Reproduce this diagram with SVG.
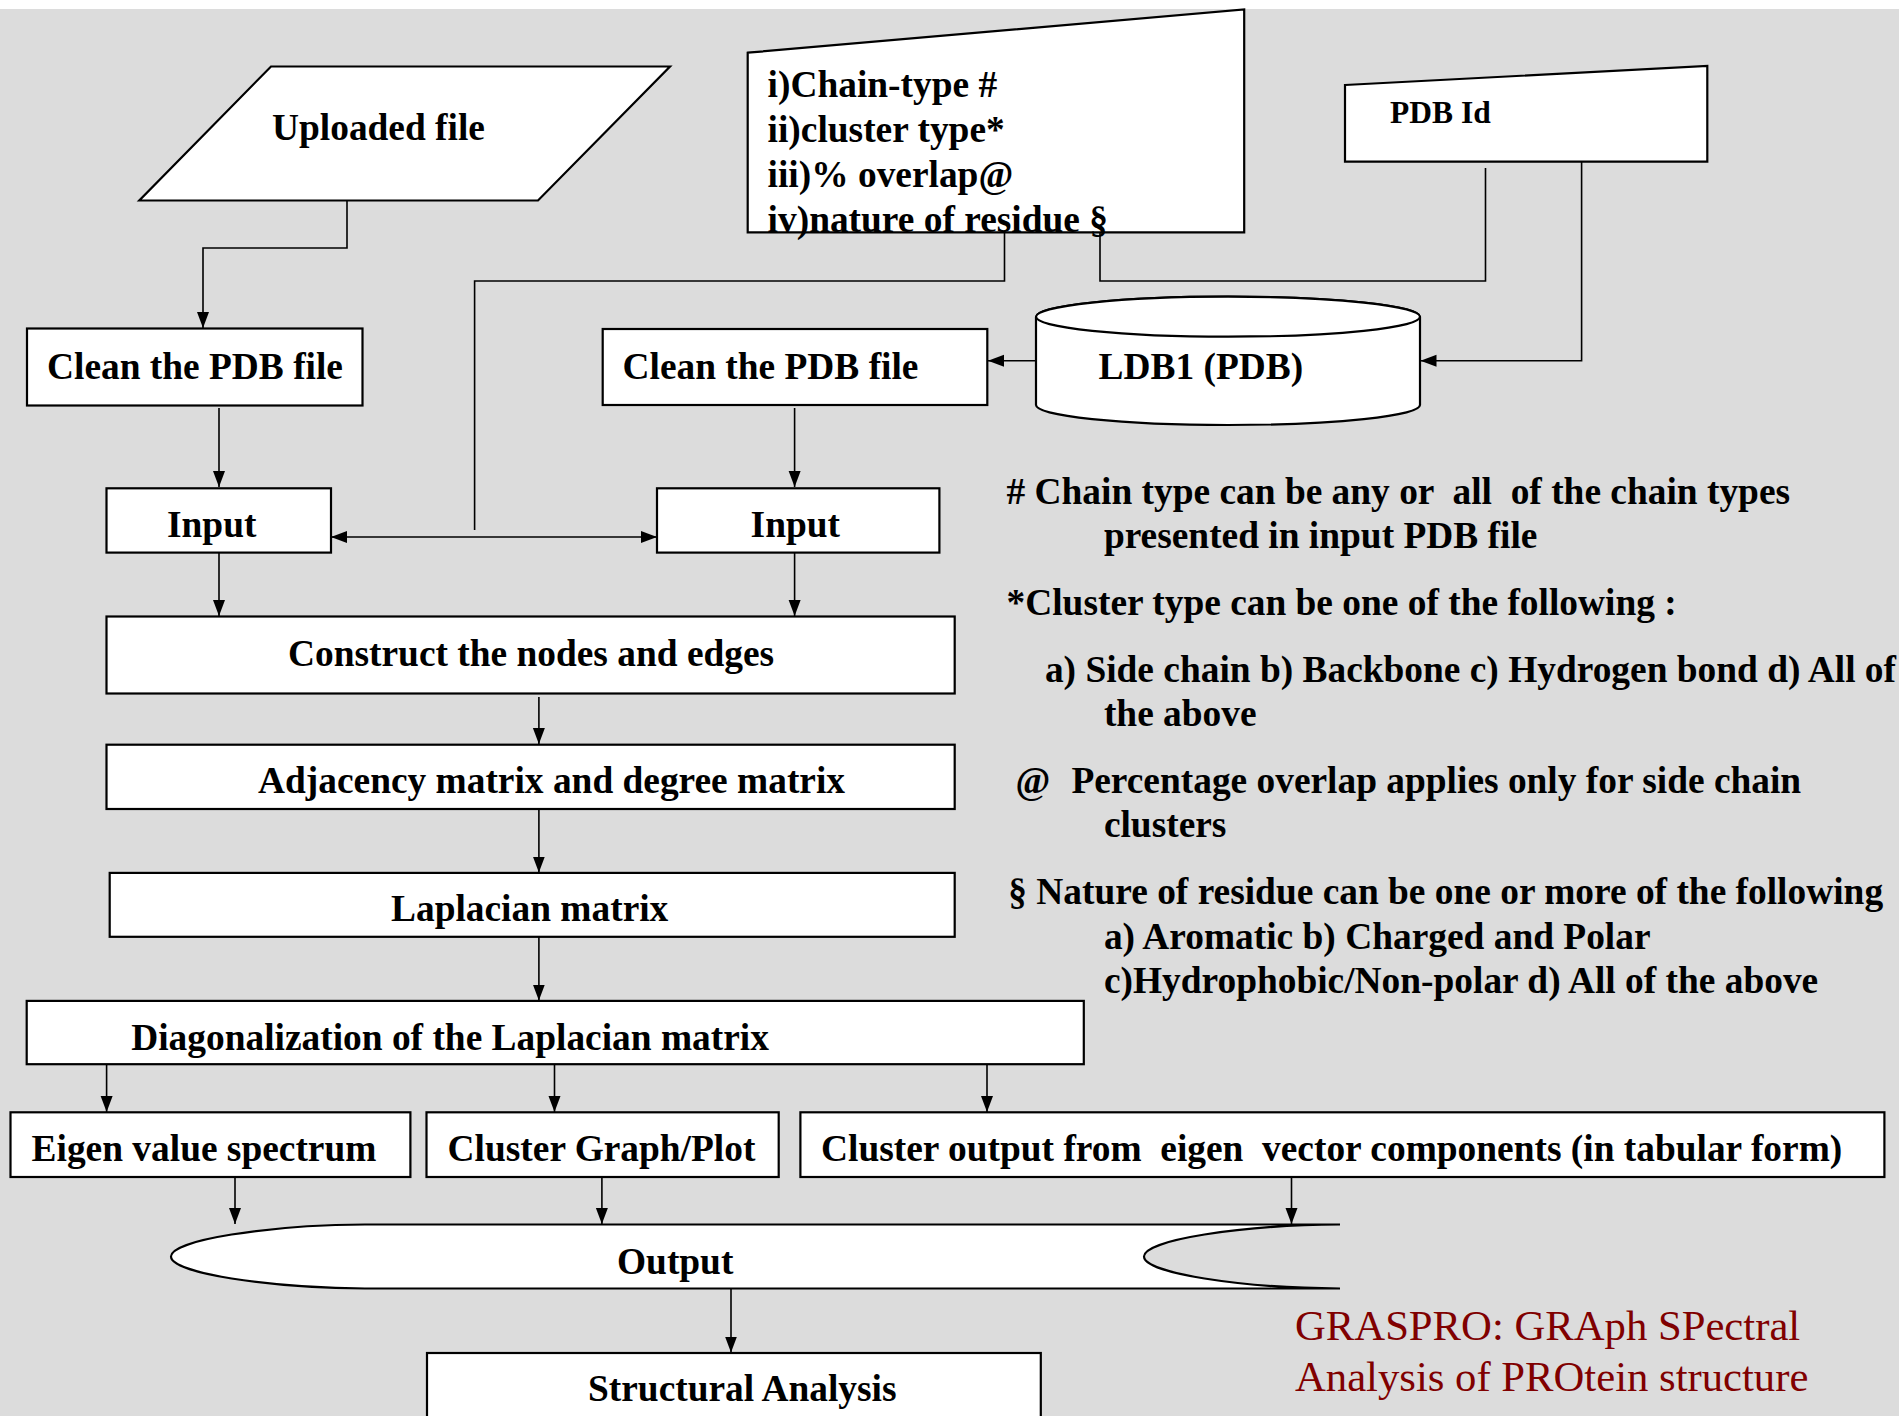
<svg xmlns="http://www.w3.org/2000/svg" width="1902" height="1416" viewBox="0 0 1902 1416">
<style>
.t{font-family:"Liberation Serif","Times New Roman",serif;font-weight:bold;font-size:37.4px;fill:#000;white-space:pre}
.r{font-family:"Liberation Serif","Times New Roman",serif;font-size:42.7px;fill:#800000}
.n{fill:#fff;stroke:#000;stroke-width:2.2}
.c{fill:none;stroke:#000;stroke-width:1.6}
</style>
<defs>
<marker id="ah" markerUnits="userSpaceOnUse" markerWidth="17" markerHeight="13" refX="16" refY="6.5" orient="auto-start-reverse" viewBox="0 0 17 13">
<path d="M0,0.5 L16,6.5 L0,12.5 Z" fill="#000"/>
</marker>
</defs>
<rect x="0" y="0" width="1902" height="1416" fill="#fff"/>
<rect x="0" y="9" width="1899" height="1407" fill="#dcdcdc"/>

<g id="connectors">
<path class="c" d="M347,201 V248 H203 V328" marker-end="url(#ah)"/>
<path class="c" d="M219,408 V487" marker-end="url(#ah)"/>
<path class="c" d="M1004.5,232 V281 H474.6 V530"/>
<path class="c" d="M331,537 H657" marker-start="url(#ah)" marker-end="url(#ah)"/>
<path class="c" d="M1100,232 V281 H1485.5 V168"/>
<path class="c" d="M1581.6,162 V360.7 H1420.5" marker-end="url(#ah)"/>
<path class="c" d="M1036,360.7 H988" marker-end="url(#ah)"/>
<path class="c" d="M794.6,408 V487" marker-end="url(#ah)"/>
<path class="c" d="M219,553 V616" marker-end="url(#ah)"/>
<path class="c" d="M794.6,553 V616" marker-end="url(#ah)"/>
<path class="c" d="M538.9,697 V744" marker-end="url(#ah)"/>
<path class="c" d="M538.9,809 V872.5" marker-end="url(#ah)"/>
<path class="c" d="M538.9,937 V1000.5" marker-end="url(#ah)"/>
<path class="c" d="M106.6,1064 V1112" marker-end="url(#ah)"/>
<path class="c" d="M554.5,1064 V1112" marker-end="url(#ah)"/>
<path class="c" d="M987,1064 V1112" marker-end="url(#ah)"/>
<path class="c" d="M235,1177 V1224" marker-end="url(#ah)"/>
<path class="c" d="M601.9,1177 V1224" marker-end="url(#ah)"/>
<path class="c" d="M1291.5,1177 V1224" marker-end="url(#ah)"/>
<path class="c" d="M731,1289 V1352.5" marker-end="url(#ah)"/>
</g>

<g id="uploaded">
<polygon class="n" points="271,66.5 670,66.5 538,200.5 139.3,200.5"/>
<text class="t" x="272" y="140">Uploaded file</text>
</g>
<g id="params">
<polygon class="n" points="747.7,52.7 1244.2,9.5 1244.2,232.3 747.7,232.3"/>
<text class="t" x="767.6" y="96.5">i)Chain-type #</text>
<text class="t" x="767.6" y="141.5">ii)cluster type*</text>
<text class="t" x="767.6" y="186.5">iii)% overlap@</text>
<text class="t" x="767.6" y="231.5">iv)nature of residue §</text>
</g>
<g id="pdbid">
<polygon class="n" points="1345,85 1707.3,66 1707.3,161.7 1345,161.7"/>
<text class="t" x="1390" y="123" style="font-size:31.5px">PDB Id</text>
</g>
<g id="clean1">
<rect class="n" x="27" y="328.5" width="335.5" height="77"/>
<text class="t" x="47" y="379">Clean the PDB file</text>
</g>
<g id="clean2">
<rect class="n" x="602.7" y="329" width="384.6" height="76"/>
<text class="t" x="622.5" y="379">Clean the PDB file</text>
</g>
<g id="ldb1">
<path class="n" d="M1036,316.7 A192,20 0 0 1 1420,316.7 V405 A192,20 0 0 1 1036,405 Z"/>
<ellipse class="n" cx="1228" cy="316.7" rx="192" ry="20"/>
<text class="t" x="1098.5" y="379">LDB1 (PDB)</text>
</g>
<g id="input1">
<rect class="n" x="106.5" y="488.3" width="224.5" height="64.3"/>
<text class="t" x="167" y="537">Input</text>
</g>
<g id="input2">
<rect class="n" x="657" y="488.3" width="282.4" height="64.3"/>
<text class="t" x="750.6" y="537">Input</text>
</g>
<g id="construct">
<rect class="n" x="106.5" y="616.5" width="848.2" height="77"/>
<text class="t" x="288" y="666">Construct the nodes and edges</text>
</g>
<g id="adjacency">
<rect class="n" x="106.5" y="744.7" width="848.2" height="64.3"/>
<text class="t" x="258" y="793">Adjacency matrix and degree matrix</text>
</g>
<g id="laplacian">
<rect class="n" x="109.7" y="872.9" width="845" height="63.9"/>
<text class="t" x="391" y="921">Laplacian matrix</text>
</g>
<g id="diag">
<rect class="n" x="26.7" y="1000.9" width="1057.1" height="63.3"/>
<text class="t" x="131.2" y="1050">Diagonalization of the Laplacian matrix</text>
</g>
<g id="eigen">
<rect class="n" x="10.5" y="1112.3" width="399.9" height="64.7"/>
<text class="t" x="31.6" y="1161">Eigen value spectrum</text>
</g>
<g id="clustergraph">
<rect class="n" x="426.5" y="1112.3" width="352.2" height="64.7"/>
<text class="t" x="447.6" y="1161">Cluster Graph/Plot</text>
</g>
<g id="clusteroutput">
<rect class="n" x="800.4" y="1112.3" width="1084" height="64.7"/>
<text class="t" x="821" y="1161">Cluster output from  eigen  vector components (in tabular form)</text>
</g>
<g id="output">
<path class="n" d="M1340,1224.5 H365 C268,1225 171,1240 171,1256.5 C171,1273 268,1288 365,1288.5 H1340 C1240,1288 1144,1273 1144,1256.5 C1144,1240 1240,1225 1340,1224.5 Z"/>
<text class="t" x="617" y="1274">Output</text>
</g>
<g id="structural">
<rect class="n" x="427" y="1353" width="613.8" height="80"/>
<text class="t" x="588" y="1401">Structural Analysis</text>
</g>

<g id="notes">
<text class="t" x="1006.5" y="503.5"># Chain type can be any or  all  of the chain types</text>
<text class="t" x="1103.9" y="547.5">presented in input PDB file</text>
<text class="t" x="1006.5" y="614.5">*Cluster type can be one of the following :</text>
<text class="t" x="1044.9" y="681.5">a) Side chain b) Backbone c) Hydrogen bond d) All of</text>
<text class="t" x="1103.9" y="725.5">the above</text>
<text class="t" x="1015.4" y="792.5">@</text>
<text class="t" x="1071.4" y="792.5">Percentage overlap applies only for side chain</text>
<text class="t" x="1103.9" y="836.5">clusters</text>
<text class="t" x="1008.3" y="903.5">§ Nature of residue can be one or more of the following</text>
<text class="t" x="1103.9" y="949">a) Aromatic b) Charged and Polar</text>
<text class="t" x="1103.9" y="993">c)Hydrophobic/Non-polar d) All of the above</text>
</g>
<g id="title">
<text class="r" x="1295" y="1340">GRASPRO: GRAph SPectral</text>
<text class="r" x="1295" y="1391">Analysis of PROtein structure</text>
</g>
</svg>
